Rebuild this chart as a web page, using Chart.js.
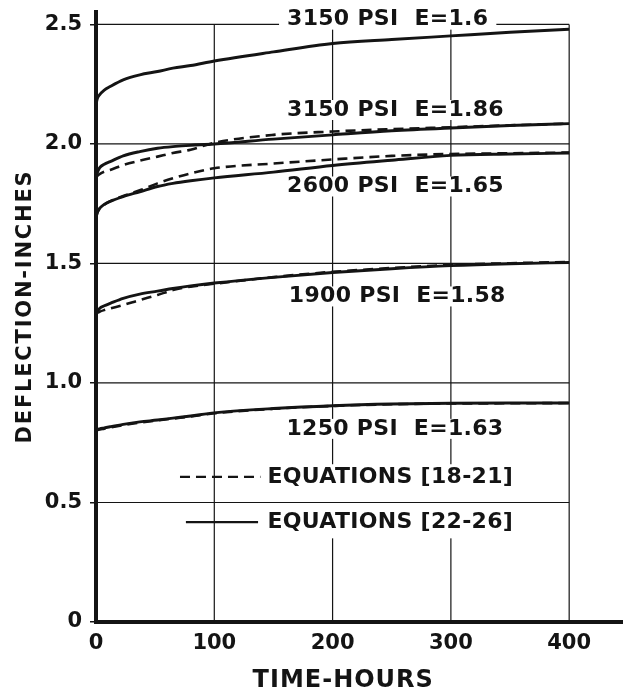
<!DOCTYPE html>
<html>
<head>
<meta charset="utf-8">
<script src="https://cdn.jsdelivr.net/npm/chart.js@4"></script>
<style>
  html, body { margin: 0; padding: 0; background: #fff; }
  #wrap { width: 623px; height: 695px; }
</style>
</head>
<body>
<div id="wrap"><canvas id="creep"></canvas></div>
<script>
// Creep deflection vs time
const hours = [0, 1, 3, 7, 12, 23, 37, 52, 65, 80, 100, 150, 200, 250, 300, 350, 400];

const e160Solid  = [2.163, 2.188, 2.205, 2.225, 2.240, 2.268, 2.289, 2.303, 2.317, 2.328, 2.347, 2.385, 2.420, 2.437, 2.452, 2.467, 2.480];
const e186Solid  = [1.860, 1.878, 1.900, 1.915, 1.926, 1.950, 1.968, 1.982, 1.989, 1.994, 2.000, 2.020, 2.038, 2.055, 2.067, 2.077, 2.085];
const e186Dashed = [1.860, 1.866, 1.874, 1.884, 1.891, 1.912, 1.930, 1.947, 1.962, 1.976, 2.005, 2.038, 2.052, 2.062, 2.070, 2.078, 2.085];
const e165Solid  = [1.690, 1.712, 1.730, 1.747, 1.760, 1.780, 1.800, 1.822, 1.835, 1.846, 1.858, 1.882, 1.910, 1.932, 1.952, 1.958, 1.962];
const e165Dashed = [1.690, 1.710, 1.728, 1.746, 1.760, 1.782, 1.806, 1.835, 1.856, 1.877, 1.898, 1.918, 1.935, 1.950, 1.958, 1.961, 1.964];
const e158Solid  = [1.290, 1.297, 1.312, 1.323, 1.333, 1.354, 1.372, 1.384, 1.395, 1.406, 1.418, 1.442, 1.462, 1.478, 1.491, 1.499, 1.504];
const e158Dashed = [1.290, 1.293, 1.298, 1.305, 1.312, 1.326, 1.347, 1.368, 1.389, 1.403, 1.415, 1.443, 1.465, 1.481, 1.494, 1.501, 1.506];
const e163Solid  = [0.803, 0.805, 0.808, 0.812, 0.817, 0.827, 0.837, 0.845, 0.853, 0.862, 0.875, 0.893, 0.905, 0.912, 0.915, 0.916, 0.916];
const e163Dashed = [0.800, 0.802, 0.805, 0.809, 0.814, 0.824, 0.834, 0.843, 0.851, 0.860, 0.873, 0.892, 0.904, 0.911, 0.914, 0.915, 0.916];

const xTicks = [0, 100, 200, 300, 400];
const yTicks = [0, 0.5, 1.0, 1.5, 2.0, 2.5];
const yTickLabels = ['0', '0.5', '1.0', '1.5', '2.0', '2.5'];

const curveLabels = ['3150 PSI  E=1.6', '3150 PSI  E=1.86', '2600 PSI  E=1.65', '1900 PSI  E=1.58', '1250 PSI  E=1.63'];
const curveLabelAt = [[161.5, 2.52], [161.5, 2.142], [161.5, 1.822], [163, 1.362], [161, 0.808]];

const legendText = ['EQUATIONS [18-21]', 'EQUATIONS [22-26]'];
const xTitle = 'TIME-HOURS';
const yTitle = 'DEFLECTION-INCHES';

const INK = '#141414';
const FONT = '"DejaVu Sans", sans-serif';

function series(vals, dashed){
  return {
    data: hours.map((h, i) => ({x: h, y: vals[i]})),
    borderColor: INK,
    borderWidth: dashed ? 2.6 : 2.9,
    borderDash: dashed ? [10, 6] : [],
    pointRadius: 0,
    fill: false,
    cubicInterpolationMode: 'monotone'
  };
}

function spaced(ctx, text, x, y, size, spacing){
  ctx.font = 'bold ' + size + 'px ' + FONT;
  ctx.letterSpacing = spacing + 'px';
  ctx.fillText(text, x, y);
}

// no extra room for half tick labels: keep the plot frame where the figure has it
function noPad(s){ s.paddingTop = 0; s.paddingBottom = 0; s.paddingLeft = 0; s.paddingRight = 0; }

const overlay = {
  id: 'overlay',
  beforeDatasetsDraw(chart){
    const {ctx, scales: {x, y}} = chart;
    ctx.save();
    ctx.strokeStyle = INK;
    ctx.lineWidth = 1.2;
    // vertical grid, bounded to the 0..400 / 0..2.5 frame
    xTicks.slice(1).forEach(v => {
      ctx.beginPath();
      ctx.moveTo(x.getPixelForValue(v), y.getPixelForValue(2.5));
      ctx.lineTo(x.getPixelForValue(v), y.getPixelForValue(0));
      ctx.stroke();
    });
    // legend block hides the vertical lines behind it
    ctx.fillStyle = '#fff';
    const lx0 = x.getPixelForValue(140), lx1 = x.getPixelForValue(376);
    const ly0 = y.getPixelForValue(0.66), ly1 = y.getPixelForValue(0.35);
    ctx.fillRect(lx0, ly0, lx1 - lx0, ly1 - ly0);
    // horizontal grid
    yTicks.slice(1).forEach(v => {
      ctx.beginPath();
      ctx.moveTo(x.getPixelForValue(0), y.getPixelForValue(v));
      ctx.lineTo(x.getPixelForValue(400), y.getPixelForValue(v));
      ctx.stroke();
    });
    // white boxes behind curve labels
    ctx.font = 'bold 22px ' + FONT;
    ctx.letterSpacing = '0.3px';
    curveLabels.forEach((t, i) => {
      const px = x.getPixelForValue(curveLabelAt[i][0]);
      const py = y.getPixelForValue(curveLabelAt[i][1]);
      const w = ctx.measureText(t).width;
      ctx.fillRect(px - 8, py - 10, w + 16, 20);
    });
    ctx.restore();
  },
  afterDatasetsDraw(chart){
    const {ctx, scales: {x, y}} = chart;
    ctx.save();
    ctx.fillStyle = INK;
    ctx.textAlign = 'left';
    ctx.textBaseline = 'middle';
    curveLabels.forEach((t, i) => {
      spaced(ctx, t, x.getPixelForValue(curveLabelAt[i][0]), y.getPixelForValue(curveLabelAt[i][1]), 22, 0.3);
    });

    // legend
    ctx.strokeStyle = INK;
    ctx.lineWidth = 2.4;
    const yd = y.getPixelForValue(0.607), ys = y.getPixelForValue(0.418);
    ctx.setLineDash([10, 6]);
    ctx.beginPath(); ctx.moveTo(x.getPixelForValue(71), yd); ctx.lineTo(x.getPixelForValue(139), yd); ctx.stroke();
    ctx.setLineDash([]);
    ctx.beginPath(); ctx.moveTo(x.getPixelForValue(76), ys); ctx.lineTo(x.getPixelForValue(137), ys); ctx.stroke();
    spaced(ctx, legendText[0], x.getPixelForValue(145), yd, 22, 0.3);
    spaced(ctx, legendText[1], x.getPixelForValue(145), ys, 22, 0.3);

    // axis titles
    ctx.textAlign = 'center';
    spaced(ctx, xTitle, x.getPixelForValue(209), 681, 24, 1.0);
    ctx.translate(26, y.getPixelForValue(1.32));
    ctx.rotate(-Math.PI / 2);
    spaced(ctx, yTitle, 0, 0, 21, 1.8);
    ctx.restore();
  }
};

new Chart(document.getElementById('creep'), {
  type: 'line',
  data: {
    datasets: [
      series(e160Solid, false),
      series(e186Dashed, true),
      series(e186Solid, false),
      series(e165Dashed, true),
      series(e165Solid, false),
      series(e158Dashed, true),
      series(e158Solid, false),
      series(e163Dashed, true),
      series(e163Solid, false)
    ]
  },
  options: {
    responsive: true, maintainAspectRatio: false,
    animation: false,
    layout: { padding: { top: 12, right: 0, bottom: 0, left: 0 } },
    plugins: { legend: { display: false }, tooltip: { enabled: false } },
    scales: {
      x: {
        type: 'linear', min: 0, max: 445.5,
        afterBuildTicks: s => { s.ticks = xTicks.map(v => ({value: v})); },
        afterFit: s => { s.height = 73; noPad(s); },
        grid: { display: false, drawTicks: false },
        border: { display: true, color: INK, width: 4 },
        ticks: { color: INK, font: { family: FONT, size: 21, weight: 'bold' }, padding: 9, maxRotation: 0 }
      },
      y: {
        type: 'linear', min: 0, max: 2.552,
        afterBuildTicks: s => { s.ticks = yTicks.map(v => ({value: v})); },
        afterFit: s => { s.width = 96; noPad(s); },
        grid: { drawOnChartArea: false, drawTicks: true, tickLength: 6, color: INK, lineWidth: 1.5 },
        border: { display: true, color: INK, width: 4 },
        ticks: {
          color: INK, font: { family: FONT, size: 21, weight: 'bold' }, padding: 8,
          callback: (v, i) => yTickLabels[i]
        }
      }
    }
  },
  plugins: [overlay]
});
</script>
</body>
</html>
